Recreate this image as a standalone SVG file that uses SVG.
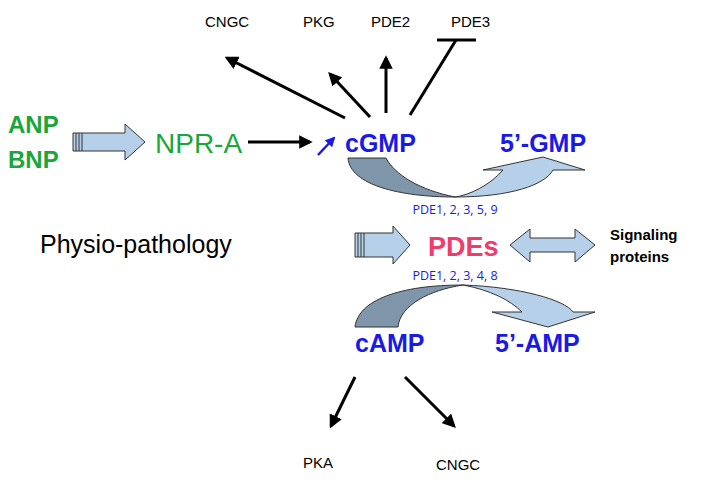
<svg xmlns="http://www.w3.org/2000/svg" width="711" height="483" viewBox="0 0 711 483">
<style>
.g{fill:#1aa63a;font-family:"Liberation Sans",Arial,sans-serif}
.b{fill:#1a1ae6;font-family:"Liberation Sans",Arial,sans-serif;font-weight:bold;font-size:25px}
.k{fill:#000;font-family:"Liberation Sans",Arial,sans-serif;font-size:15px}
.s{fill:#1a1ae6;font-family:"Open Sans","Liberation Sans",sans-serif;font-size:12.5px}
.ln{stroke:#000;stroke-width:3;fill:none}
.fa{fill:#b7d0ea;stroke:#333;stroke-width:1}
.fd{fill:#7f95aa;stroke:#333;stroke-width:1}
</style>
<defs>
<marker id="ah" viewBox="0 0 10 10" refX="8" refY="5" markerWidth="4.5" markerHeight="4.5" orient="auto"><path d="M0,0 L10,5 L0,10 Z" fill="#000"/></marker>
<marker id="bh" viewBox="0 0 10 10" refX="8" refY="5" markerWidth="4" markerHeight="4" orient="auto"><path d="M0,0 L10,5 L0,10 Z" fill="#1a1ae6"/></marker>
</defs>
<g id="anp"><text class="g" x="8" y="133" font-size="24" font-weight="bold">ANP</text><text class="g" x="8" y="168" font-size="24" font-weight="bold">BNP</text></g>
<g id="arrow1"><path class="fa" d="M73,133 H125 V124 L145,142 L125,160 V151 H73 Z"/><path d="M76,133 V151 M79,133 V151 M82,133 V151" stroke="#333" stroke-width="1"/></g>
<g id="npra"><text class="g" x="155" y="153" font-size="28">NPR-A</text></g>
<g id="cgmp"><text class="b" x="345" y="152">cGMP</text></g>
<g id="gmp5"><text class="b" x="500" y="152">5’-GMP</text></g>
<g id="cngc1"><text class="k" x="205" y="27">CNGC</text></g>
<g id="pkg"><text class="k" x="303" y="27">PKG</text></g>
<g id="pde2"><text class="k" x="371" y="27">PDE2</text></g>
<g id="pde3"><text class="k" x="451" y="27">PDE3</text></g>
<g id="curve1">
<path class="fd" d="M348,158 C350,185 400,197 455,197 C420,190 395,175 386,158 Z"/>
<path class="fa" d="M455,197 C510,197 545,185 553,170 H585 L543,157 L483,170 H503 C490,185 470,195 455,197 Z"/>
</g>
<g id="pdelist1"><text class="s" x="455" y="214" text-anchor="middle">PDE1, 2, 3, 5, 9</text></g>
<g id="physio"><text x="40" y="253" font-family="Liberation Sans,Arial,sans-serif" font-size="25">Physio-pathology</text></g>
<g id="arrow2"><path class="fa" d="M355,233 H393 V226 L410,245 L393,264 V257 H355 Z"/><path d="M358,233 V257 M361,233 V257 M364,233 V257" stroke="#333" stroke-width="1"/></g>
<g id="pdes"><text x="428" y="256" font-family="Liberation Sans,Arial,sans-serif" font-weight="bold" font-size="27" fill="#f03c6b">PDEs</text></g>
<g id="dbl"><path class="fa" d="M510,245 L530,229 V238 H575 V229 L595,245 L575,262 V252 H530 V262 Z"/></g>
<g id="signal"><text class="k" x="610" y="240" font-weight="bold">Signaling</text><text class="k" x="610" y="262" font-weight="bold">proteins</text></g>
<g id="pdelist2"><text class="s" x="455" y="280" text-anchor="middle">PDE1, 2, 3, 4, 8</text></g>
<g id="curve2">
<path class="fd" d="M463,285 C400,285 358,300 355,327 H398 C400,305 430,290 463,285 Z"/>
<path class="fa" d="M463,285 C520,287 565,300 573,312 H595 L548,327 L492,312 H522 C510,300 490,290 463,285 Z"/>
</g>
<g id="camp"><text class="b" x="355" y="352">cAMP</text></g>
<g id="amp5"><text class="b" x="495" y="352">5’-AMP</text></g>
<g id="pka"><text class="k" x="303" y="468">PKA</text></g>
<g id="cngc2"><text class="k" x="436" y="470">CNGC</text></g>
<g id="connectors">
<line class="ln" x1="248" y1="142" x2="310" y2="142" marker-end="url(#ah)"/>
<line x1="318" y1="155" x2="334" y2="138" stroke="#1a1ae6" stroke-width="2.5" marker-end="url(#bh)"/>
<line class="ln" x1="345" y1="118" x2="227" y2="58" marker-end="url(#ah)"/>
<line class="ln" x1="370" y1="117" x2="330" y2="74" marker-end="url(#ah)"/>
<line class="ln" x1="386" y1="113" x2="386" y2="58" marker-end="url(#ah)"/>
<line class="ln" x1="410" y1="115" x2="456" y2="40"/>
<line class="ln" x1="437" y1="40" x2="476" y2="40"/>
<line class="ln" x1="355" y1="377" x2="331" y2="426" marker-end="url(#ah)"/>
<line class="ln" x1="405" y1="377" x2="454" y2="426" marker-end="url(#ah)"/>
</g>
</svg>
